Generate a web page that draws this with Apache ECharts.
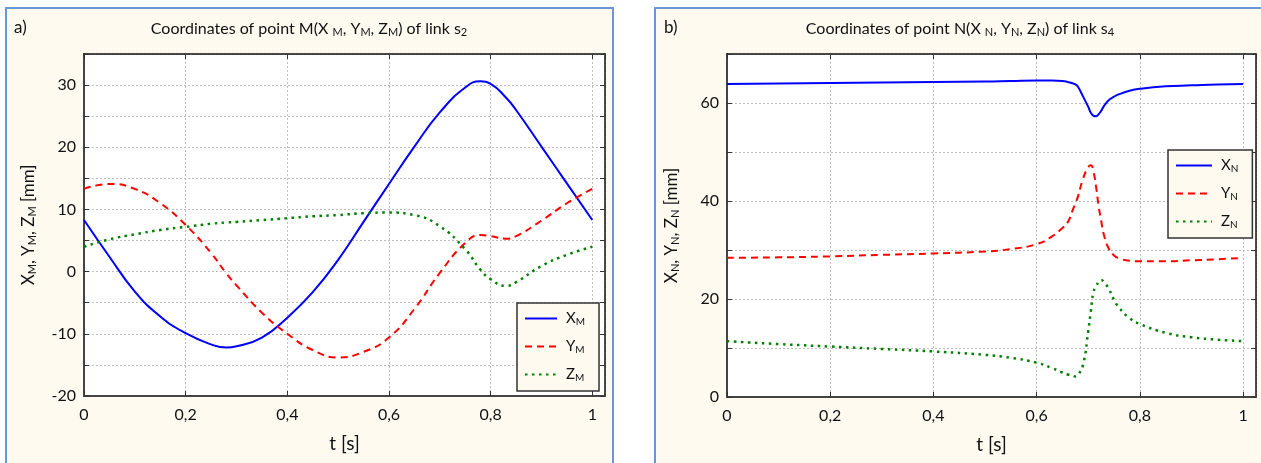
<!DOCTYPE html>
<html>
<head>
<meta charset="utf-8">
<script src="https://cdn.jsdelivr.net/npm/echarts@6/dist/echarts.min.js"></script>
<style>
  html, body { margin: 0; padding: 0; background: #fff; }
  #chart { width: 1261px; height: 463px; }
</style>
</head>
<body>
<div id="chart"></div>
<script>
// panel a) point M of link s2
var tM = [0, 0.05, 0.1, 0.15, 0.2, 0.25, 0.28, 0.3, 0.35, 0.4, 0.45, 0.5, 0.55, 0.6, 0.65, 0.7, 0.75, 0.78, 0.8, 0.83, 0.85, 0.9, 0.95, 1.0];
var xM = [8.3, 2.4, -3.2, -7.2, -9.9, -11.7, -12.2, -12.0, -10.6, -7.4, -3.3, 1.9, 8.0, 14.1, 20.1, 25.6, 29.6, 30.6, 30.2, 28.0, 26.0, 20.1, 14.2, 8.3];
var yM = [13.3, 14.1, 13.3, 11.0, 7.5, 3.0, -0.3, -2.2, -6.6, -10.0, -12.6, -13.8, -12.9, -10.6, -6.0, -0.2, 4.6, 5.9, 5.7, 5.3, 5.7, 8.2, 11.0, 13.3];
var zM = [4.0, 5.2, 6.0, 6.7, 7.2, 7.7, 7.9, 8.0, 8.3, 8.6, 8.9, 9.1, 9.4, 9.5, 9.1, 7.3, 3.6, 0.3, -1.2, -2.3, -1.7, 0.9, 2.7, 4.0];

// panel b) point N of link s4
var tN = [0, 0.1, 0.2, 0.3, 0.4, 0.5, 0.55, 0.6, 0.63, 0.65, 0.66, 0.67, 0.675, 0.68, 0.69, 0.7, 0.705, 0.71, 0.715, 0.72, 0.725, 0.73, 0.74, 0.75, 0.76, 0.78, 0.8, 0.85, 0.9, 0.95, 1.0];
var xN = [63.9, 64.0, 64.1, 64.2, 64.3, 64.4, 64.5, 64.6, 64.6, 64.5, 64.3, 64.0, 63.8, 63.3, 61.3, 59.2, 58.0, 57.4, 57.3, 57.7, 58.4, 59.3, 60.6, 61.3, 61.8, 62.5, 62.9, 63.4, 63.6, 63.8, 63.9];
var yN = [28.4, 28.5, 28.7, 29.0, 29.3, 29.7, 30.2, 31.2, 32.8, 34.5, 35.6, 38.2, 39.5, 40.9, 44.6, 46.9, 47.3, 46.0, 43.0, 39.0, 36.0, 33.2, 30.2, 28.9, 28.3, 27.8, 27.7, 27.7, 27.9, 28.1, 28.4];
var zN = [11.4, 10.8, 10.3, 9.8, 9.3, 8.6, 8.0, 7.0, 5.9, 5.0, 4.6, 4.3, 4.2, 4.5, 6.6, 13.5, 17.5, 21.4, 22.5, 23.5, 23.9, 23.5, 22.0, 19.8, 18.2, 16.1, 14.9, 13.1, 12.2, 11.7, 11.4];

var xTicks = [0, 0.2, 0.4, 0.6, 0.8, 1];

function pairs(t, v) {
  return t.map(function (x, i) { return [x, v[i]]; });
}

var FONT = 'Lato';
var rich = {
  n: { fontFamily: FONT, fontSize: 16, color: '#111' },
  s: { fontFamily: FONT, fontSize: 11, color: '#111', padding: [7, 0, 0, 0] }
};
var richLegend = {
  n: { fontFamily: FONT, fontSize: 15, color: '#111', padding: [0, 0, 0, 4] },
  s: { fontFamily: FONT, fontSize: 10, color: '#111', padding: [7, 0, 0, 0] }
};
var richAxis = {
  n: { fontFamily: FONT, fontSize: 17, color: '#111' },
  s: { fontFamily: FONT, fontSize: 11, color: '#111', padding: [8, 0, 0, 0] }
};

function xLabel(v) {
  for (var i = 0; i < xTicks.length; i++) {
    if (Math.abs(v - xTicks[i]) < 1e-6) return String(xTicks[i]).replace('.', ',');
  }
  return '';
}

function mainX(grid) {
  return {
    type: 'value', gridIndex: grid, min: 0, max: 1.025, interval: 0.2,
    name: 't [s]', nameLocation: 'middle', nameGap: 38,
    nameTextStyle: { fontFamily: FONT, fontSize: 19, color: '#111' },
    axisLine: { onZero: false, lineStyle: { color: '#444', width: 2 } },
    axisTick: { inside: true, length: 5, lineStyle: { color: '#333' } },
    axisLabel: { fontFamily: FONT, fontSize: 16, color: '#111', margin: 11, formatter: xLabel, showMaxLabel: false },
    splitLine: { show: true, lineStyle: { color: '#bdbdbd', type: [2, 2], width: 1 } }
  };
}
function topX(grid) {
  return {
    type: 'value', gridIndex: grid, position: 'top', min: 0, max: 1.025, interval: 0.2,
    axisLine: { onZero: false, lineStyle: { color: '#111', width: 1.5 } },
    axisTick: { inside: true, length: 5, lineStyle: { color: '#333' } },
    axisLabel: { show: false }, splitLine: { show: false }
  };
}
function mainY(grid, min, max, step, every, sub) {
  return {
    type: 'value', gridIndex: grid, min: min, max: max, interval: step,
    name: '{n|X}{s|' + sub + '}{n|, Y}{s|' + sub + '}{n|, Z}{s|' + sub + '}{n| [mm]}',
    nameLocation: 'middle', nameGap: 46,
    nameTextStyle: { rich: richAxis },
    axisLine: { show: true, onZero: false, lineStyle: { color: '#444', width: 2 } },
    axisTick: { show: true, inside: true, length: 5, lineStyle: { color: '#333' } },
    axisLabel: {
      fontFamily: FONT, fontSize: 16, color: '#111', margin: 8,
      formatter: function (v) { return v % every === 0 ? String(v) : ''; }
    },
    splitLine: { show: true, lineStyle: { color: '#bdbdbd', type: [2, 2], width: 1 } }
  };
}
function rightY(grid, min, max, step) {
  return {
    type: 'value', gridIndex: grid, position: 'right', min: min, max: max, interval: step,
    axisLine: { show: true, onZero: false, lineStyle: { color: '#111', width: 1.5 } },
    axisTick: { show: true, inside: true, length: 5, lineStyle: { color: '#333' } },
    axisLabel: { show: false }, splitLine: { show: false }
  };
}

function line(name, data, xi, yi, color, type, width) {
  return {
    name: name, type: 'line', xAxisIndex: xi, yAxisIndex: yi,
    data: data, symbol: 'none', smooth: 0.5,
    animation: false,
    lineStyle: { color: color, width: width, type: type },
    itemStyle: { color: color }
  };
}

function legend(names, left, top, w) {
  return {
    data: names, orient: 'vertical', left: left, top: top,
    itemWidth: w, itemHeight: 14, itemGap: 12,
    padding: [8, 14, 8, 7],
    backgroundColor: '#fefaf0', borderColor: '#333', borderWidth: 1.5,
    itemStyle: { opacity: 0 },
    formatter: function (n) { return '{n|' + n.charAt(0) + '}{s|' + n.charAt(1) + '}'; },
    textStyle: { rich: richLegend }
  };
}

var chart = echarts.init(document.getElementById('chart'));
chart.setOption({
  backgroundColor: '#fff',
  animation: false,
  graphic: [
    { type: 'rect', z: -10, shape: { x: 6, y: 8, width: 607, height: 470 },
      style: { fill: '#fefaf0', stroke: '#6a96d4', lineWidth: 2 } },
    { type: 'rect', z: -10, shape: { x: 655, y: 8, width: 620, height: 470 },
      style: { fill: '#fefaf0', stroke: '#6a96d4', lineWidth: 2 } },
    { type: 'text', left: 14, top: 19, style: { text: 'a)', font: '17px Lato', fill: '#111' } },
    { type: 'text', left: 664, top: 19, style: { text: 'b)', font: '17px Lato', fill: '#111' } }
  ],
  title: [
    { text: 'Coordinates of point M(X {s|M}, Y{s|M}, Z{s|M}) of link s{s|2}',
      left: 309, top: 20, textAlign: 'center', padding: 0,
      textStyle: { fontFamily: FONT, fontSize: 16, fontWeight: 'normal', color: '#111', rich: rich } },
    { text: 'Coordinates of point N(X {s|N}, Y{s|N}, Z{s|N}) of link s{s|4}',
      left: 960, top: 20, textAlign: 'center', padding: 0,
      textStyle: { fontFamily: FONT, fontSize: 16, fontWeight: 'normal', color: '#111', rich: rich } }
  ],
  legend: [
    legend(['XM', 'YM', 'ZM'], 517, 303, 32),
    legend(['XN', 'YN', 'ZN'], 1168, 150, 36)
  ],
  grid: [
    { left: 84, top: 54, width: 521, height: 342, show: true, backgroundColor: '#fff', borderWidth: 0 },
    { left: 727, top: 54, width: 529, height: 343, show: true, backgroundColor: '#fff', borderWidth: 0 }
  ],
  xAxis: [mainX(0), topX(0), mainX(1), topX(1)],
  yAxis: [
    mainY(0, -20, 35, 5, 10, 'M'), rightY(0, -20, 35, 5),
    mainY(1, 0, 70, 10, 20, 'N'), rightY(1, 0, 70, 10)
  ],
  series: [
    line('XM', pairs(tM, xM), 0, 0, '#0000ff', 'solid', 2),
    line('YM', pairs(tM, yM), 0, 0, '#ff0000', [7, 5], 2),
    line('ZM', pairs(tM, zM), 0, 0, '#008000', [2.5, 4.5], 2.5),
    line('XN', pairs(tN, xN), 2, 2, '#0000ff', 'solid', 2),
    line('YN', pairs(tN, yN), 2, 2, '#ff0000', [7, 5], 2),
    line('ZN', pairs(tN, zN), 2, 2, '#008000', [2.5, 4.5], 2.5)
  ]
});
</script>
</body>
</html>
